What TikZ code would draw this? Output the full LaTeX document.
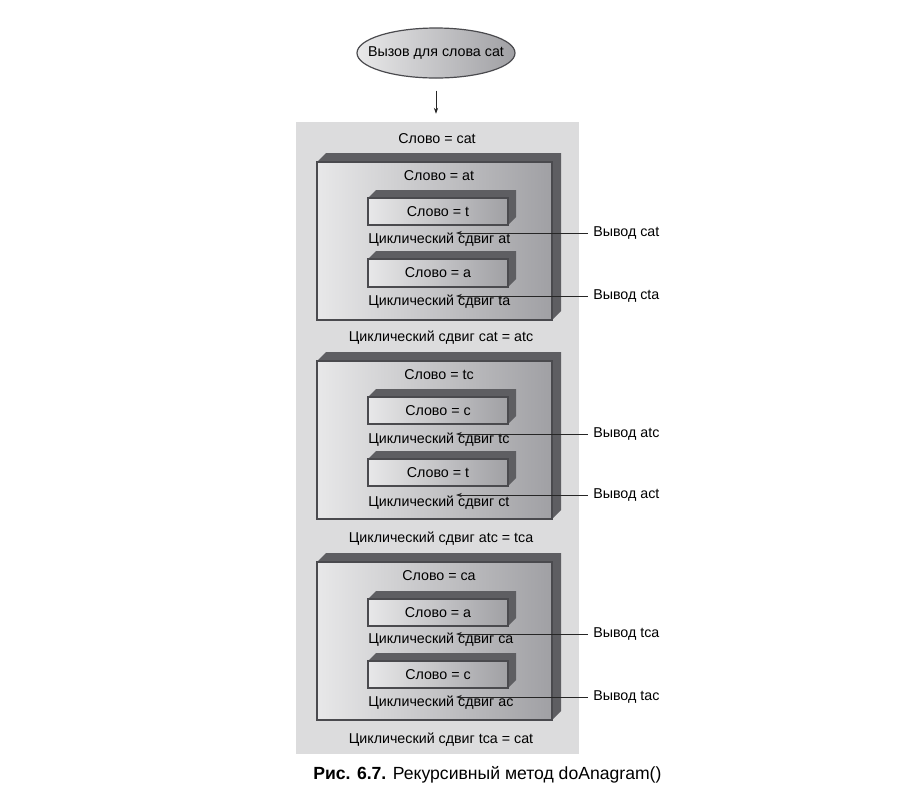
\documentclass[tikz,border=0pt]{standalone}
\usepackage{fontspec}
\setmainfont{Liberation Sans}
\usetikzlibrary{arrows.meta,fit,shapes.geometric,calc}
\definecolor{bgcol}{HTML}{DCDCDD}
\definecolor{bandcol}{HTML}{5E5E62}
\definecolor{edgecol}{HTML}{4A4A4E}
\definecolor{lightf}{HTML}{E8E8E9}
\definecolor{darkf}{HTML}{A0A0A4}
\tikzset{
 txt/.style={font=\fontsize{10.7}{12}\selectfont, inner sep=0pt, text=black},
 lbl/.style={txt, anchor=west},
 frontbox/.style={draw=edgecol, line width=0.9pt, left color=lightf, right color=darkf, inner sep=0pt},
 band/.style={fill=bandcol},
 outarrow/.style={draw=black!85, line width=0.6pt, -{Stealth[length=4.5pt,width=3.2pt]}},
}
\newcommand\tdbox[6]{%
 \fill[band] (#2,#3) -- ++(#6,-#6) -- (#4+#6,#3-#6) -- (#4+#6,#5-#6) -- (#4,#5) -- (#4,#3) -- cycle;
 \coordinate (#1-nw) at (#2,#3); \coordinate (#1-se) at (#4,#5);
 \node[frontbox, fit=(#1-nw)(#1-se)] (#1) {};
}
\begin{document}
\begin{tikzpicture}[x=0.75pt,y=-0.75pt]
\useasboundingbox[fill=white] (0,0) rectangle (924,794);
% background panel
\coordinate (bg-nw) at (296,122); \coordinate (bg-se) at (579,754);
\node[fill=bgcol, inner sep=0pt, fit=(bg-nw)(bg-se)] (bg) {};
% call ellipse
\node[ellipse, draw=edgecol, line width=0.9pt, left color=lightf, right color=darkf,
      minimum width=118.5pt, minimum height=37.5pt, inner sep=0pt] (callshape) at (436,53) {};
\node[txt] (call) at (callshape.center) {Вызов для слова cat};
\draw[outarrow] ($(callshape.south)+(0,12)$) -- ($(callshape.south |- bg.north)+(0,-8)$);
\node[txt] (w0) at (437,139) {Слово = cat};

% ---------- box 1
\tdbox{b1}{317}{162}{552}{320}{9}
\node[txt] (b1t) at (439,176) {Слово = at};
\tdbox{i11}{368}{198}{508}{225}{8}
\node[txt] (i11t) at (i11) {Слово = t};
\node[lbl] (c11) at (368,240) {Циклический сдвиг at};
\tdbox{i12}{368}{259}{508}{287}{8}
\node[txt] (i12t) at (i12) {Слово = a};
\node[lbl] (c12) at (368,302) {Циклический сдвиг ta};
\node[lbl] (v11) at (593,233) {Вывод cat};
\node[lbl] (v12) at (593,296) {Вывод cta};
\coordinate (p11) at (456,233);
\coordinate (p12) at (456,296);
\draw[outarrow] ([xshift=-4pt]v11.west) -- (p11);
\draw[outarrow] ([xshift=-4pt]v12.west) -- (p12);
\node[txt] (r1) at (441,338) {Циклический сдвиг cat = atc};

% ---------- box 2
\tdbox{b2}{317}{361}{552}{519}{9}
\node[txt] (b2t) at (439,375) {Слово = tc};
\tdbox{i21}{368}{397}{508}{424}{8}
\node[txt] (i21t) at (i21) {Слово = c};
\node[lbl] (c21) at (368,440) {Циклический сдвиг tc};
\tdbox{i22}{368}{459}{508}{486}{8}
\node[txt] (i22t) at (i22) {Слово = t};
\node[lbl] (c22) at (368,503) {Циклический сдвиг ct};
\node[lbl] (v21) at (593,434) {Вывод atc};
\node[lbl] (v22) at (593,495) {Вывод act};
\coordinate (p21) at (456,434);
\coordinate (p22) at (456,495);
\draw[outarrow] ([xshift=-4pt]v21.west) -- (p21);
\draw[outarrow] ([xshift=-4pt]v22.west) -- (p22);
\node[txt] (r2) at (441,539) {Циклический сдвиг atc = tca};

% ---------- box 3
\tdbox{b3}{317}{562}{552}{720}{9}
\node[txt] (b3t) at (439,576) {Слово = ca};
\tdbox{i31}{368}{599}{508}{626}{8}
\node[txt] (i31t) at (i31) {Слово = a};
\node[lbl] (c31) at (368,640) {Циклический сдвиг ca};
\tdbox{i32}{368}{661}{508}{688}{8}
\node[txt] (i32t) at (i32) {Слово = c};
\node[lbl] (c32) at (368,703) {Циклический сдвиг ac};
\node[lbl] (v31) at (593,634) {Вывод tca};
\node[lbl] (v32) at (593,697) {Вывод tac};
\coordinate (p31) at (456,634);
\coordinate (p32) at (456,697);
\draw[outarrow] ([xshift=-4pt]v31.west) -- (p31);
\draw[outarrow] ([xshift=-4pt]v32.west) -- (p32);
\node[txt] (r3) at (441,740) {Циклический сдвиг tca = cat};

% caption
\node[lbl, font=\fontsize{13.2}{15}\selectfont] (cap) at (313,775) {\textbf{Рис. 6.7.} Рекурсивный метод doAnagram()};
\end{tikzpicture}
\end{document}
